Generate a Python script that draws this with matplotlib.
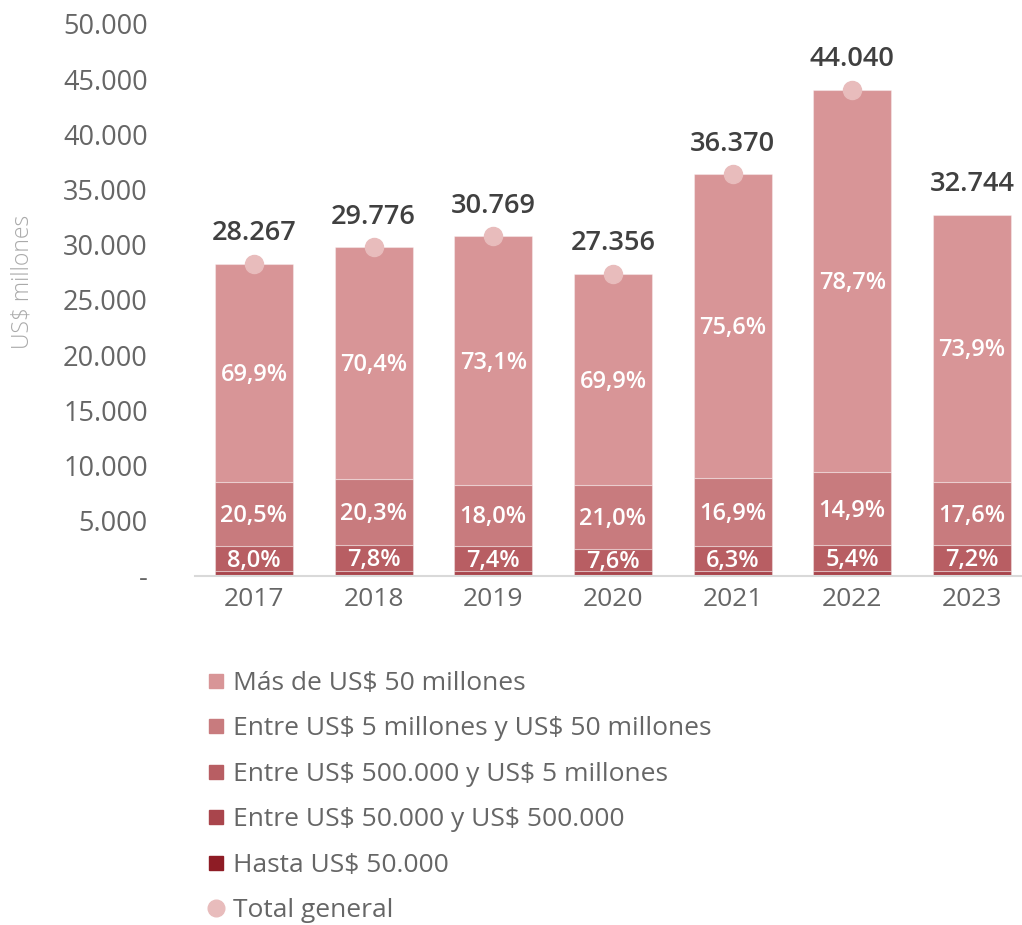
import matplotlib
matplotlib.use("Agg")
import matplotlib.pyplot as plt
from matplotlib.lines import Line2D
import numpy as np

plt.rcParams['font.family'] = ['Open Sans', 'DejaVu Sans']
plt.rcParams['text.parse_math'] = False

years = ['2017', '2018', '2019', '2020', '2021', '2022', '2023']
totals = [28267, 29776, 30769, 27356, 36370, 44040, 32744]
# percentage shares of each size band
pct_hasta_50k = [0.2, 0.2, 0.2, 0.2, 0.1, 0.1, 0.1]
pct_50k_500k = [1.4, 1.3, 1.3, 1.3, 1.1, 0.9, 1.2]
pct_500k_5m = [8.0, 7.8, 7.4, 7.6, 6.3, 5.4, 7.2]
pct_5m_50m = [20.5, 20.3, 18.0, 21.0, 16.9, 14.9, 17.6]
pct_mas_50m = [69.9, 70.4, 73.1, 69.9, 75.6, 78.7, 73.9]
show_marker = [True, True, True, True, True, True, False]

series_names = ['Hasta US$ 50.000', 'Entre US$ 50.000 y US$ 500.000',
                'Entre US$ 500.000 y US$ 5 millones',
                'Entre US$ 5 millones y US$ 50 millones',
                'Más de US$ 50 millones']
series_pcts = [pct_hasta_50k, pct_50k_500k, pct_500k_5m, pct_5m_50m, pct_mas_50m]
colors = ['#8e1c25', '#a9454c', '#b85e63', '#c87b7e', '#d89597']
labelled = [False, False, True, True, True]
marker_color = '#e8bcbc'

fig = plt.figure(figsize=(10.22, 9.25), dpi=100)
ax = fig.add_axes([195/1022, 1-576/925, 1-195/1022, (576-24)/925])

x = np.arange(len(years))
tot = np.array(totals, dtype=float)
bottom = np.zeros(len(years))
for name, pcts, col, lab in zip(series_names, series_pcts, colors, labelled):
    vals = tot * np.array(pcts) / 100.0
    ax.bar(x, vals, width=0.65, bottom=bottom, color=col,
           edgecolor=(1, 1, 1, 0.35), linewidth=0.8, zorder=2)
    if lab:
        for xi, b, v, p in zip(x, bottom, vals, pcts):
            ax.text(xi, b + v/2 - 200, f"{p:.1f}%".replace('.', ','),
                    ha='center', va='center', color='white',
                    fontsize=17, fontweight='semibold', zorder=4)
    bottom += vals

mx = [xi for xi, s in zip(x, show_marker) if s]
my = [t for t, s in zip(totals, show_marker) if s]
ax.plot(mx, my, 'o', color=marker_color, markersize=13, zorder=3, linestyle='none')
for xi, t in zip(x, totals):
    ax.annotate(f"{t:,}".replace(',', '.'), (xi, t), xytext=(0, 22),
                textcoords='offset points', ha='center', va='center',
                fontsize=19.5, fontweight='semibold', color='#404040')

ax.set_xlim(-0.493, 6.418)
ax.set_ylim(0, 50000)
yt = np.arange(0, 50001, 5000)
ax.set_yticks(yt)
ax.set_yticklabels(['-'] + [f"{v:,}".replace(',', '.') for v in yt[1:]])
ax.set_xticks(x)
ax.set_xticklabels(years)
ax.tick_params(axis='y', length=0, pad=34, labelsize=19.5, labelcolor='#666666')
ax.tick_params(axis='x', length=0, pad=8, labelsize=19, labelcolor='#666666')
for s in ['top', 'right', 'left']:
    ax.spines[s].set_visible(False)
ax.spines['bottom'].set_color('#d9d9d9')
ax.spines['bottom'].set_linewidth(1.5)

fig.text(23/1022, 1-282/925, 'US$ millones', rotation=90, ha='center', va='center',
         fontsize=16.5, color='#aaaaaa', fontweight='light')

handles = [Line2D([], [], marker='s', linestyle='none', color=c, markersize=10)
           for c in colors[::-1]]
handles.append(Line2D([], [], marker='o', linestyle='none', color=marker_color, markersize=12))
labels = series_names[::-1] + ['Total general']
fig.legend(handles, labels, loc='upper left', bbox_to_anchor=(207/1022, 1-671/925),
           frameon=False, fontsize=19, labelcolor='#666666', handlelength=0.7,
           handletextpad=0.3, labelspacing=0.775, borderaxespad=0, borderpad=0)

fig.savefig('out.png', dpi=100)
